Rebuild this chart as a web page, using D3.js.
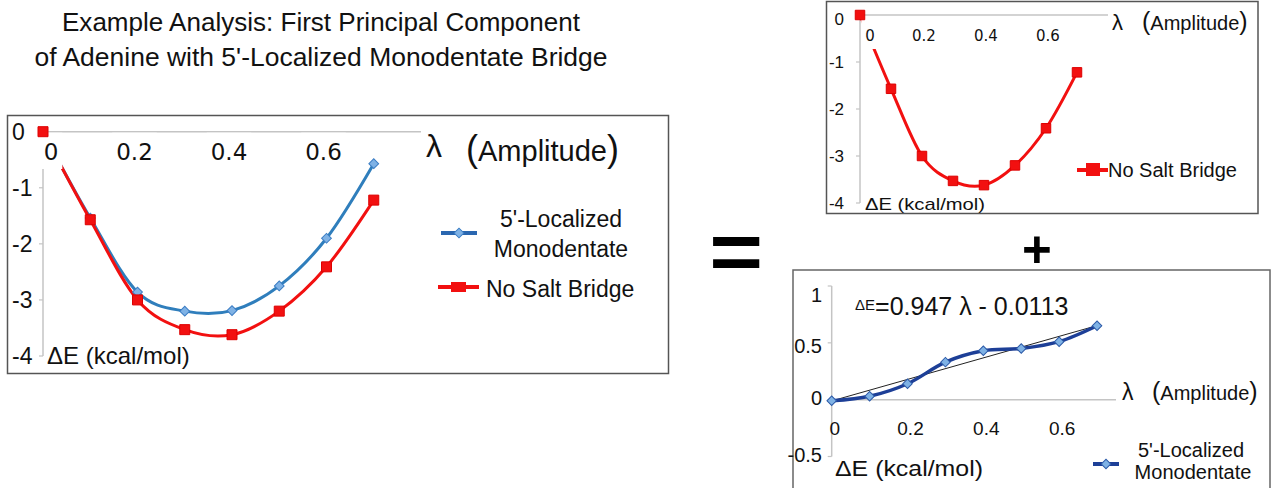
<!DOCTYPE html>
<html><head><meta charset="utf-8">
<script src="https://cdn.jsdelivr.net/npm/d3@7"></script>
<style>
html,body{margin:0;padding:0;background:#fff;}
svg{display:block;}
text{font-family:"Liberation Sans",Arial,sans-serif;fill:#111;}
</style></head>
<body>
<svg id="chart" width="1274" height="488"></svg>
<script>
// ---------- data ----------
const lambda = [0, 0.1, 0.2, 0.3, 0.4, 0.5, 0.6, 0.7];
const noSaltBridge = [0, -1.57, -3.0, -3.53, -3.62, -3.2, -2.41, -1.22];
const monodentate = [-0.01, -1.54, -2.86, -3.2, -3.19, -2.75, -1.9, -0.57];
const bridgeContribution = [-0.01, 0.03, 0.14, 0.33, 0.43, 0.45, 0.51, 0.65];
const fitSlope = 0.947;
const fitIntercept = -0.0113;
const xTicks = [0, 0.2, 0.4, 0.6];
const energyTicks = [0, -1, -2, -3, -4];
const contributionTicks = [1, 0.5, 0, -0.5];
const titleLines = ["Example Analysis: First Principal Component", "of Adenine with 5'-Localized Monodentate Bridge"];
const seriesNames = ["5'-Localized", "Monodentate", "No Salt Bridge"];

const svg = d3.select("#chart");
svg.append("rect").attr("width", 1274).attr("height", 488).attr("fill", "#fff");

const RED = "#f21010", BLUE = "#2f7ebc", DIAMOND_FILL = "#7fb2e5", DIAMOND_STROKE = "#3b7dc4";
const NAVY = "#1d3f97";
const squareSym = d3.symbol(d3.symbolSquare);
const smooth = d3.curveCatmullRom.alpha(0);

// ---------- title ----------
const titleWidths = [518, 573];
svg.selectAll("text.title").data(titleLines).join("text")
  .attr("class", "title")
  .attr("x", 321).attr("y", (d, i) => 31 + i * 35)
  .attr("text-anchor", "middle")
  .attr("textLength", (d, i) => titleWidths[i]).attr("lengthAdjust", "spacingAndGlyphs")
  .style("font-size", "25px")
  .text(d => d);

// ---------- helpers ----------
function drawAxes(g, x, y, yTickVals, opt) {
  g.append("line").attr("x1", x.range()[0]).attr("x2", x.range()[1])
    .attr("y1", y(0)).attr("y2", y(0)).attr("stroke", "#c4c4c4").attr("stroke-width", 1.5);
  g.append("line").attr("x1", x(0)).attr("x2", x(0))
    .attr("y1", y.range()[0]).attr("y2", y.range()[1]).attr("stroke", "#c4c4c4").attr("stroke-width", 1.5);
  g.selectAll("line.ytick").data(yTickVals).join("line").attr("class", "ytick")
    .attr("x1", x(0) - 4).attr("x2", x(0)).attr("y1", d => y(d)).attr("y2", d => y(d))
    .attr("stroke", "#c4c4c4").attr("stroke-width", 1.2);
  g.selectAll("text.ylab").data(yTickVals).join("text").attr("class", "ylab")
    .attr("x", opt.yLabX).attr("y", d => y(d) + opt.yLabDy(d))
    .attr("text-anchor", opt.yAnchor)
    .style("font-size", opt.yFont + "px")
    .text(d => d);
}

function drawXLabels(g, x, y0, opt, withBg) {
  const labs = g.selectAll("g.xlab").data(xTicks).join("g").attr("class", "xlab");
  labs.each(function (d, i) {
    const gg = d3.select(this);
    const cx = x(d) + (i === 0 ? opt.firstDx : 0) + opt.dx;
    const t = gg.append("text").attr("x", cx).attr("y", opt.baseline)
      .attr("text-anchor", "middle")
      .style("font-family", opt.family)
      .style("font-size", opt.font + "px")
      .text(d);
    if (withBg) {
      const bb = t.node().getBBox();
      gg.insert("rect", "text").attr("x", bb.x - 4).attr("y", y0 + 1)
        .attr("width", bb.width + 8).attr("height", bb.y + bb.height + 4 - (y0 + 1))
        .attr("fill", "#fff");
    }
  });
}

// fit a single glyph's ink box into a target box (uses canvas ink metrics)
function fitGlyph(ch, font, box) {
  const c = document.createElement("canvas").getContext("2d");
  const F = 100;
  c.font = `${font.weight || "normal"} ${F}px ${font.family}`;
  const m = c.measureText(ch);
  const left = -m.actualBoundingBoxLeft, right = m.actualBoundingBoxRight;
  const top = -m.actualBoundingBoxAscent, bottom = m.actualBoundingBoxDescent;
  const sx = box.w / (right - left), sy = box.h / (bottom - top);
  svg.append("text")
    .attr("transform", `translate(${box.x - left * sx},${box.y - top * sy}) scale(${sx},${sy})`)
    .style("font-family", font.family).style("font-weight", font.weight || "normal")
    .style("font-size", F + "px").style("fill", "#000")
    .text(ch);
}

// =========== MAIN PANEL ===========
{
  const g = svg.append("g");
  g.append("rect").attr("x", 7.5).attr("y", 115.5).attr("width", 661).attr("height", 258)
    .attr("fill", "#fff").attr("stroke", "#555").attr("stroke-width", 1.5);
  const x = d3.scaleLinear().domain([0, 0.8]).range([43, 421]);
  const y = d3.scaleLinear().domain([-4, 0]).range([356, 131.7]);
  drawAxes(g, x, y, energyTicks, { yLabX: 12, yAnchor: "start", yFont: 23, yLabDy: () => 8 });
  const line = d3.line().x((d, i) => x(lambda[i])).y(d => y(d)).curve(smooth);
  g.append("path").datum(monodentate).attr("d", line).attr("fill", "none").attr("stroke", BLUE).attr("stroke-width", 3);
  g.append("path").datum(noSaltBridge).attr("d", line).attr("fill", "none").attr("stroke", RED).attr("stroke-width", 3);
  drawXLabels(g, x, y(0), { baseline: 160, font: 23, family: "DejaVu Sans", firstDx: 11, dx: -3 }, true);
  g.selectAll("path.dm").data(monodentate.slice(1)).join("path").attr("class", "dm")
    .attr("d", squareSym.size(48)())
    .attr("transform", (d, i) => `translate(${x(lambda[i + 1])},${y(d)}) rotate(45)`)
    .attr("fill", DIAMOND_FILL).attr("stroke", DIAMOND_STROKE).attr("stroke-width", 1);
  g.selectAll("path.sq").data(noSaltBridge).join("path").attr("class", "sq")
    .attr("d", d3.symbol(d3.symbolSquare).size(100)())
    .attr("transform", (d, i) => `translate(${x(lambda[i])},${y(d)})`)
    .attr("fill", RED).attr("stroke", "#d00").attr("stroke-width", 1);
  g.append("text").attr("x", 426).attr("y", 157).style("font-size", "32px").text("λ");
  const amp = g.append("text").attr("x", 466).attr("y", 161).style("font-size", "29px");
  amp.append("tspan").style("font-size", "36px").style("font-weight", "300").text("(");
  amp.append("tspan").text("Amplitude");
  amp.append("tspan").style("font-size", "36px").text(")");
  g.append("text").attr("x", 47).attr("y", 364).style("font-size", "24px").text("ΔE (kcal/mol)");
  // legend
  g.append("line").attr("x1", 441).attr("x2", 477).attr("y1", 233).attr("y2", 233).attr("stroke", "#2a67b0").attr("stroke-width", 4);
  g.append("path").attr("d", squareSym.size(48)()).attr("transform", "translate(459,233) rotate(45)")
    .attr("fill", DIAMOND_FILL).attr("stroke", DIAMOND_STROKE);
  g.append("text").attr("x", 561).attr("y", 227).attr("text-anchor", "middle").style("font-size", "23px").text(seriesNames[0]);
  g.append("text").attr("x", 561).attr("y", 257).attr("text-anchor", "middle").style("font-size", "23px").text(seriesNames[1]);
  g.append("line").attr("x1", 438).attr("x2", 479).attr("y1", 287).attr("y2", 287).attr("stroke", RED).attr("stroke-width", 4);
  g.append("rect").attr("x", 451).attr("y", 282).attr("width", 15).attr("height", 10).attr("fill", RED);
  g.append("text").attr("x", 486).attr("y", 297).style("font-size", "23px").text(seriesNames[2]);
}

// =========== TOP-RIGHT PANEL ===========
{
  const g = svg.append("g");
  g.append("rect").attr("x", 826.5).attr("y", 1.5).attr("width", 431.5).attr("height", 212)
    .attr("fill", "#fff").attr("stroke", "#555").attr("stroke-width", 1.5);
  const x = d3.scaleLinear().domain([0, 0.8]).range([860, 1108]);
  const y = d3.scaleLinear().domain([-4, 0]).range([203, 15]);
  drawAxes(g, x, y, energyTicks, { yLabX: 844, yAnchor: "end", yFont: 17, yLabDy: d => d === 0 ? 10 : 6 });
  const line = d3.line().x((d, i) => x(lambda[i])).y(d => y(d)).curve(smooth);
  g.append("path").datum(noSaltBridge).attr("d", line).attr("fill", "none").attr("stroke", RED).attr("stroke-width", 3);
  drawXLabels(g, x, y(0), { baseline: 41, font: 15, family: "DejaVu Sans", firstDx: 8, dx: 2 }, true);
  g.selectAll("path.sq").data(noSaltBridge).join("path").attr("class", "sq")
    .attr("d", d3.symbol(d3.symbolSquare).size(90)())
    .attr("transform", (d, i) => `translate(${x(lambda[i])},${y(d)})`)
    .attr("fill", RED).attr("stroke", "#d00").attr("stroke-width", 1);
  g.append("text").attr("x", 1112).attr("y", 30).style("font-size", "22px").text("λ");
  const amp = g.append("text").attr("x", 1142).attr("y", 30).style("font-size", "20px");
  amp.append("tspan").style("font-size", "25px").text("(");
  amp.append("tspan").text("Amplitude");
  amp.append("tspan").style("font-size", "25px").text(")");
  g.append("text").attr("x", 865).attr("y", 210).style("font-size", "17px")
    .attr("textLength", 120).attr("lengthAdjust", "spacingAndGlyphs").text("ΔE (kcal/mol)");
  g.append("line").attr("x1", 1077).attr("x2", 1108).attr("y1", 170).attr("y2", 170).attr("stroke", RED).attr("stroke-width", 4);
  g.append("rect").attr("x", 1086).attr("y", 163).attr("width", 14).attr("height", 13).attr("fill", RED);
  g.append("text").attr("x", 1108).attr("y", 177).style("font-size", "20px").text(seriesNames[2]);
}

// =========== BOTTOM-RIGHT PANEL ===========
{
  const g = svg.append("g");
  g.append("rect").attr("x", 793).attr("y", 270).attr("width", 477).attr("height", 240)
    .attr("fill", "#fff").attr("stroke", "#666").attr("stroke-width", 1.5);
  const x = d3.scaleLinear().domain([0, 0.75]).range([831.7, 1116]);
  const y = d3.scaleLinear().domain([-0.5, 1]).range([456.5, 286]);
  drawAxes(g, x, y, contributionTicks, { yLabX: 822, yAnchor: "end", yFont: 20, yLabDy: d => d === 1 ? 16 : (d === 0.5 ? 10 : 5) });
  drawXLabels(g, x, y(0), { baseline: 435, font: 19, family: "Liberation Sans", firstDx: 0, dx: 3 }, false);
  const xs = d3.extent(lambda);
  g.append("line").attr("x1", x(xs[0])).attr("x2", x(xs[1]))
    .attr("y1", y(fitSlope * xs[0] + fitIntercept)).attr("y2", y(fitSlope * xs[1] + fitIntercept))
    .attr("stroke", "#222").attr("stroke-width", 1);
  const line = d3.line().x((d, i) => x(lambda[i])).y(d => y(d)).curve(smooth);
  g.append("path").datum(bridgeContribution).attr("d", line).attr("fill", "none").attr("stroke", NAVY).attr("stroke-width", 3.5);
  g.selectAll("path.dm").data(bridgeContribution).join("path").attr("class", "dm")
    .attr("d", squareSym.size(45)())
    .attr("transform", (d, i) => `translate(${x(lambda[i])},${y(d)}) rotate(45)`)
    .attr("fill", DIAMOND_FILL).attr("stroke", "#2c5aa8").attr("stroke-width", 1);
  const eq = g.append("text").attr("x", 855).attr("y", 315);
  eq.append("tspan").attr("dy", -5).style("font-size", "15px").text("ΔE");
  eq.append("tspan").attr("dy", 5).style("font-size", "25px").text(`=${fitSlope} λ - ${Math.abs(fitIntercept)}`);
  g.append("text").attr("x", 1122).attr("y", 400).style("font-size", "23px").text("λ");
  const amp = g.append("text").attr("x", 1152).attr("y", 400).style("font-size", "20px");
  amp.append("tspan").style("font-size", "25px").text("(");
  amp.append("tspan").text("Amplitude");
  amp.append("tspan").style("font-size", "25px").text(")");
  g.append("text").attr("x", 835).attr("y", 476).style("font-size", "22px")
    .attr("textLength", 148).attr("lengthAdjust", "spacingAndGlyphs").text("ΔE (kcal/mol)");
  g.append("line").attr("x1", 1093).attr("x2", 1119).attr("y1", 464).attr("y2", 464).attr("stroke", NAVY).attr("stroke-width", 4);
  g.append("path").attr("d", squareSym.size(45)()).attr("transform", "translate(1106,464) rotate(45)")
    .attr("fill", DIAMOND_FILL).attr("stroke", "#2c5aa8");
  g.append("text").attr("x", 1191).attr("y", 457).attr("text-anchor", "middle").style("font-size", "20px").text(seriesNames[0]);
  g.append("text").attr("x", 1193).attr("y", 479).attr("text-anchor", "middle").style("font-size", "20px").text(seriesNames[1]);
}

// =========== operators ===========
fitGlyph("=", { family: "Liberation Sans", weight: "bold" }, { x: 713, y: 238, w: 47, h: 31 });
fitGlyph("+", { family: "Liberation Sans", weight: "bold" }, { x: 1024, y: 237, w: 26, h: 26 });
</script>
</body></html>
